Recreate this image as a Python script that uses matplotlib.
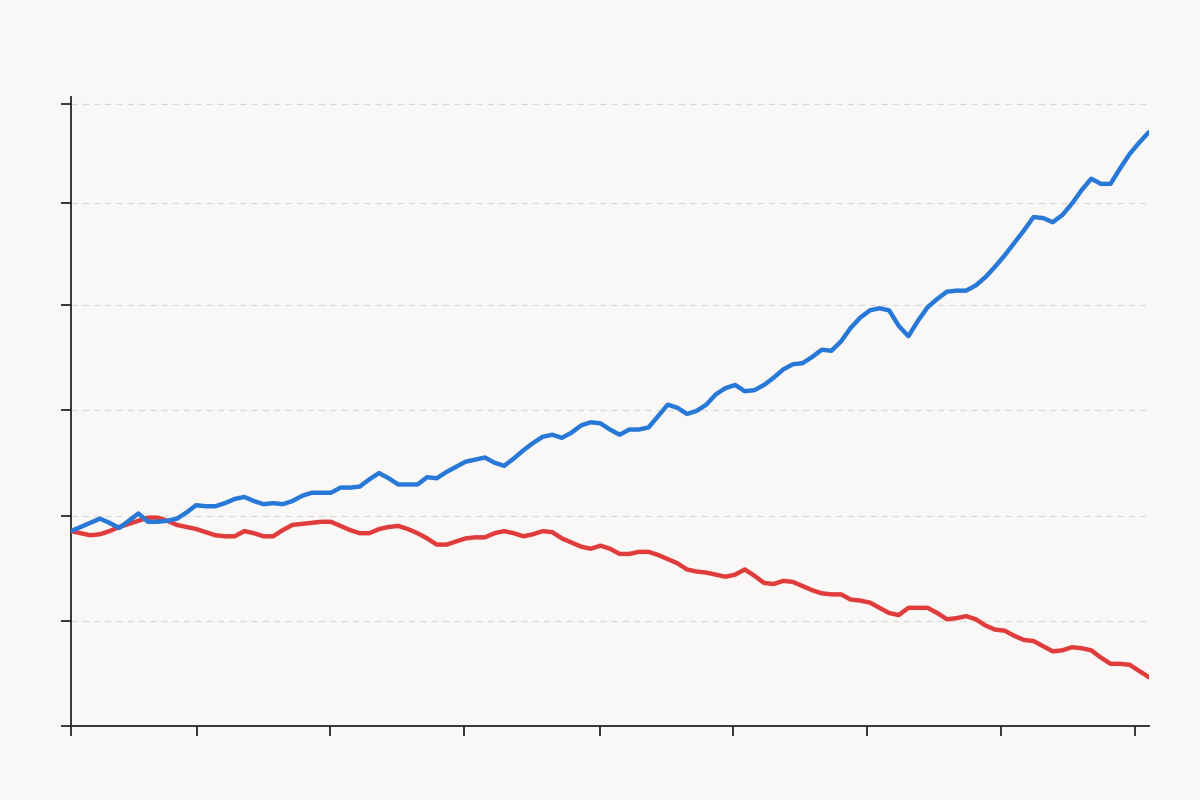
import numpy as np
import matplotlib
matplotlib.use("Agg")
import matplotlib.pyplot as plt

# Two series (unitless)
rising = [
    1.88, 1.92, 1.96, 2.00, 1.96, 1.91, 1.98, 2.05, 1.97, 1.97,
    1.98, 2.00, 2.06, 2.13, 2.12, 2.12, 2.15, 2.19, 2.21, 2.17,
    2.14, 2.15, 2.14, 2.17, 2.22, 2.25, 2.25, 2.25, 2.30, 2.30,
    2.31, 2.38, 2.44, 2.39, 2.33, 2.33, 2.33, 2.40, 2.39, 2.45,
    2.50, 2.55, 2.57, 2.59, 2.54, 2.51, 2.58, 2.66, 2.73, 2.79,
    2.81, 2.78, 2.83, 2.90, 2.93, 2.92, 2.86, 2.81, 2.86, 2.86,
    2.88, 2.99, 3.10, 3.07, 3.01, 3.04, 3.10, 3.20, 3.26, 3.29,
    3.23, 3.24, 3.29, 3.36, 3.44, 3.49, 3.50, 3.56, 3.63, 3.62,
    3.71, 3.84, 3.94, 4.01, 4.03, 4.01, 3.86, 3.76, 3.91, 4.04,
    4.12, 4.19, 4.20, 4.20, 4.25, 4.33, 4.43, 4.54, 4.66, 4.78,
    4.91, 4.90, 4.86, 4.93, 5.04, 5.17, 5.28, 5.23, 5.23, 5.38,
    5.52, 5.63, 5.73,
]
falling = [
    1.88, 1.86, 1.84, 1.85, 1.88, 1.92, 1.95, 1.98, 2.01, 2.01,
    1.98, 1.94, 1.92, 1.90, 1.87, 1.84, 1.83, 1.83, 1.88, 1.86,
    1.83, 1.83, 1.89, 1.94, 1.95, 1.96, 1.97, 1.97, 1.93, 1.89,
    1.86, 1.86, 1.90, 1.92, 1.93, 1.90, 1.86, 1.81, 1.75, 1.75,
    1.78, 1.81, 1.82, 1.82, 1.86, 1.88, 1.86, 1.83, 1.85, 1.88,
    1.87, 1.81, 1.77, 1.73, 1.71, 1.74, 1.71, 1.66, 1.66, 1.68,
    1.68, 1.65, 1.61, 1.57, 1.51, 1.49, 1.48, 1.46, 1.44, 1.46,
    1.51, 1.45, 1.38, 1.37, 1.40, 1.39, 1.35, 1.31, 1.28, 1.27,
    1.27, 1.22, 1.21, 1.19, 1.14, 1.09, 1.07, 1.14, 1.14, 1.14,
    1.09, 1.03, 1.04, 1.06, 1.03, 0.97, 0.93, 0.92, 0.87, 0.83,
    0.82, 0.77, 0.72, 0.73, 0.76, 0.75, 0.73, 0.66, 0.60, 0.60,
    0.59, 0.53, 0.47,
]
x_ticks = [0, 13.07, 26.86, 40.84, 54.94, 68.8, 82.67, 96.63, 110.53]
y_ticks = [0, 1.01, 2.03, 3.05, 4.06, 5.05, 6.0]

BG = "#f9f8f6"
BLUE = "#2878d8"
RED = "#e03c3c"


def main():
    x = np.arange(len(rising))

    fig = plt.figure(figsize=(12, 8), dpi=100, facecolor=BG)
    ax = fig.add_axes([0.0592, 0.0925, 0.8983, 0.7865], facecolor=BG)

    ax.plot(x, falling, color=RED, lw=3.2, solid_joinstyle="round",
            solid_capstyle="round", zorder=3)
    ax.plot(x, rising, color=BLUE, lw=3.2, solid_joinstyle="round",
            solid_capstyle="round", zorder=4)

    ax.set_xlim(0, len(rising) - 1)
    ax.set_ylim(0, 6.07)
    ax.set_xticks(x_ticks)
    ax.set_yticks(y_ticks)
    ax.tick_params(labelbottom=False, labelleft=False, length=7,
                   width=1.3, color="#262626", direction="out")

    # dashed horizontal grid only
    ax.yaxis.grid(True, ls=(0, (5, 4)), lw=0.9, color="#d9d9d9", zorder=0)
    ax.xaxis.grid(False)

    for side in ["top", "right"]:
        ax.spines[side].set_visible(False)
    for side in ["left", "bottom"]:
        ax.spines[side].set_color("#262626")
        ax.spines[side].set_linewidth(1.3)

    fig.savefig("out.png", dpi=100, facecolor=BG)


if __name__ == "__main__":
    main()
